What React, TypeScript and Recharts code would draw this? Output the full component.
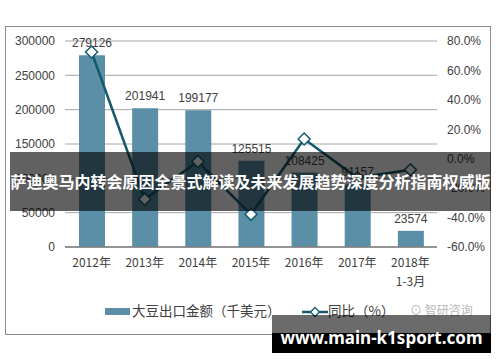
import React from "react";
import {
  Bar,
  CartesianGrid,
  ComposedChart,
  LabelList,
  Line,
  XAxis,
  YAxis,
} from "recharts";

const years = ["2012年", "2013年", "2014年", "2015年", "2016年", "2017年", "2018年\n1-3月"];
const exportValues = [279126, 201941, 199177, 125515, 108425, 91157, 23574];
const yoyPct = [72.5, -27.5, -1.9, -37.8, 13.4, -13.0, -7.5];

const leftTicks = [0, 50000, 100000, 150000, 200000, 250000, 300000];
const rightTicks = [-60, -40, -20, 0, 20, 40, 60, 80];

const data = years.map((year, i) => ({
  year,
  amount: exportValues[i],
  yoy: yoyPct[i],
}));

const BAR = "#5b8fa7";
const LINE = "#125b6f";
const TEXT = "#404040";
const FONT = "'Liberation Sans', Arial, 'Noto Sans CJK SC', sans-serif";
const CJK = "'Noto Sans CJK SC', 'Liberation Sans', sans-serif";

function Diamond(props: any) {
  const { cx, cy } = props;
  if (cx == null || cy == null) return null;
  const r = 6;
  return (
    <path
      d={`M${cx},${cy - r} L${cx + r},${cy} L${cx},${cy + r} L${cx - r},${cy} Z`}
      fill="#fff"
      stroke={LINE}
      strokeWidth={1.5}
    />
  );
}

function YearTick({ x, y, payload }: any) {
  const lines = String(payload.value).split("\n");
  return (
    <text x={x} y={y + 12} textAnchor="middle" fill={TEXT} fontSize={12} fontFamily={CJK}>
      {lines.map((l, i) => (
        <tspan key={i} x={x} dy={i === 0 ? 0 : 19}>
          {l}
        </tspan>
      ))}
    </text>
  );
}

function ChartLegend() {
  return (
    <div
      style={{
        position: "absolute",
        left: 0,
        top: 300,
        width: 500,
        height: 20,
        fontFamily: CJK,
        fontSize: 13.5,
        color: TEXT,
      }}
    >
      <div style={{ position: "absolute", left: 105, top: 8, width: 25, height: 7, background: BAR }} />
      <span style={{ position: "absolute", left: 132, top: 0, whiteSpace: "nowrap" }}>
        大豆出口金额（千美元）
      </span>
      <svg style={{ position: "absolute", left: 302, top: 5 }} width={26} height={14}>
        <line x1={0} y1={7} x2={26} y2={7} stroke={LINE} strokeWidth={2.5} />
        <path d="M13,2.5 L17.5,7 L13,11.5 L8.5,7 Z" fill="#fff" stroke={LINE} strokeWidth={1.3} />
      </svg>
      <span style={{ position: "absolute", left: 328, top: 0, whiteSpace: "nowrap" }}>同比（%）</span>
    </div>
  );
}

export default function App() {
  return (
    <div style={{ position: "fixed", left: 0, top: 0, width: 500, height: 362, background: "#fff" }}>
      <div
        style={{
          position: "absolute",
          left: 5,
          top: 26,
          width: 484,
          height: 307,
          border: "1px solid #8c8c8c",
        }}
      />
      <div style={{ position: "absolute", left: 0, top: 0 }}>
        <ComposedChart
          width={500}
          height={362}
          data={data}
          margin={{ top: 41, right: 10, bottom: 75, left: 5 }}
        >
          <CartesianGrid yAxisId="left" vertical={false} stroke="#a6a6a6" />
          <XAxis
            dataKey="year"
            tick={<YearTick />}
            tickLine={false}
            axisLine={{ stroke: "#7f7f7f", strokeWidth: 1.5 }}
            interval={0}
            height={40}
          />
          <YAxis
            yAxisId="left"
            width={60}
            domain={[0, 300000]}
            ticks={leftTicks}
            tickLine={false}
            axisLine={false}
            tickSize={4}
            tickMargin={6}
            tick={{ fill: TEXT, fontSize: 12, fontFamily: FONT }}
          />
          <YAxis
            yAxisId="right"
            orientation="right"
            width={53}
            domain={[-60, 80]}
            ticks={rightTicks}
            tickLine={false}
            axisLine={false}
            tickSize={4}
            tickMargin={6}
            tickFormatter={(v: number) => `${v.toFixed(1)}%`}
            tick={{ fill: TEXT, fontSize: 12, fontFamily: FONT, textAnchor: "start" }}
          />
          <Bar yAxisId="left" dataKey="amount" fill={BAR} barSize={26} isAnimationActive={false}>
            <LabelList
              dataKey="amount"
              position="top"
              offset={8}
              fill={TEXT}
              fontSize={12}
              fontFamily={FONT}
            />
          </Bar>
          <Line
            yAxisId="right"
            dataKey="yoy"
            stroke={LINE}
            strokeWidth={2.5}
            dot={<Diamond />}
            activeDot={false}
            isAnimationActive={false}
          />
        </ComposedChart>
      </div>
      <ChartLegend />
      <div
        style={{
          position: "absolute",
          left: 410,
          top: 301,
          fontFamily: CJK,
          fontSize: 12,
          color: "#b8b8b8",
          whiteSpace: "nowrap",
        }}
      >
        ⊙ 智研咨询
      </div>
      <div
        style={{
          position: "absolute",
          left: 10,
          top: 152,
          width: 481,
          height: 59,
          background: "rgba(0,0,0,0.62)",
          color: "#fff",
          fontFamily: CJK,
          fontWeight: 700,
          fontSize: 16,
          lineHeight: "59px",
          whiteSpace: "nowrap",
          textAlign: "center",
        }}
      >
        萨迪奥马内转会原因全景式解读及未来发展趋势深度分析指南权威版
      </div>
      <div
        style={{
          position: "absolute",
          left: 272,
          top: 315,
          width: 219,
          height: 18,
          background: "rgba(0,0,0,0.58)",
        }}
      />
      <div
        style={{
          position: "absolute",
          left: 272,
          top: 333,
          width: 219,
          height: 20,
          background: "#000",
        }}
      />
      <div
        style={{
          position: "absolute",
          left: 272,
          top: 324,
          width: 219,
          height: 28,
          lineHeight: "28px",
          color: "#fff",
          fontFamily: "'Noto Sans', sans-serif",
          fontWeight: 700,
          fontSize: 17,
          textAlign: "center",
          whiteSpace: "nowrap",
        }}
      >
        www.main-k1sport.com
      </div>
    </div>
  );
}
